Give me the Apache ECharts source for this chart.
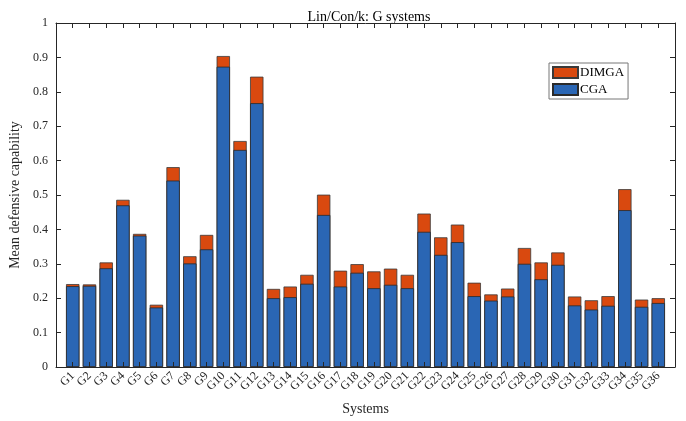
<!DOCTYPE html>
<html>
<head>
<meta charset="utf-8">
<script src="https://cdn.jsdelivr.net/npm/echarts@6/dist/echarts.min.js"></script>
<style>
  html, body { margin: 0; padding: 0; background: #fff; }
  #chart { width: 686px; height: 421px; }
</style>
</head>
<body>
<div id="chart"></div>
<script>
// System names along the x axis
const systems = ['G1','G2','G3','G4','G5','G6','G7','G8','G9','G10','G11','G12',
  'G13','G14','G15','G16','G17','G18','G19','G20','G21','G22','G23','G24',
  'G25','G26','G27','G28','G29','G30','G31','G32','G33','G34','G35','G36'];

// Mean defensive capability per system
const dimga = [0.241,0.240,0.304,0.486,0.387,0.181,0.581,0.322,0.384,0.904,0.657,0.844,
  0.227,0.234,0.268,0.501,0.280,0.299,0.278,0.286,0.268,0.446,0.377,0.414,
  0.245,0.211,0.228,0.346,0.304,0.333,0.205,0.194,0.206,0.517,0.196,0.200];
const cga = [0.235,0.236,0.287,0.470,0.382,0.173,0.542,0.301,0.342,0.873,0.631,0.767,
  0.200,0.203,0.242,0.442,0.234,0.274,0.229,0.239,0.229,0.393,0.326,0.363,
  0.206,0.193,0.205,0.300,0.255,0.297,0.179,0.167,0.178,0.456,0.175,0.186];

// y axis tick labels
const yTicks = ['0','0.1','0.2','0.3','0.4','0.5','0.6','0.7','0.8','0.9','1'];

const font = 'Liberation Serif, Times New Roman, serif';
const ink = '#262626';

const toPoints = arr => arr.map((v, i) => [i + 1, v]);
const xLabel = v => (v >= 1 && v <= systems.length && Number.isInteger(v)) ? systems[v - 1] : '';

// Box axes: line plus inward-pointing ticks, no labels
const boxLine = { show: true, onZero: false, lineStyle: { color: ink, width: 1 } };
const boxTick = { show: true, inside: true, length: 5, lineStyle: { color: ink } };

const chart = echarts.init(document.getElementById('chart'), null, { renderer: 'canvas' });
chart.setOption({
  animation: false,
  backgroundColor: '#fff',
  title: {
    text: 'Lin/Con/k: G systems',
    left: 364, top: 5, textAlign: 'center',
    textStyle: { fontFamily: font, fontSize: 14, fontWeight: 'normal', color: '#000' }
  },
  legend: {
    data: ['DIMGA', 'CGA'],
    orient: 'vertical',
    left: 549, top: 63,
    itemWidth: 25, itemHeight: 11, itemGap: 4,
    padding: [3, 4, 3, 3],
    borderColor: '#777', borderWidth: 1,
    backgroundColor: '#fff',
    icon: 'rect',
    textStyle: { fontFamily: font, fontSize: 13, color: '#000', padding: [0, 0, 0, -3] }
  },
  grid: { left: 52, right: 11, top: 23, bottom: 47, containLabel: false },
  xAxis: [{
    type: 'value', min: 0, max: systems.length + 1, interval: 1,
    z: 10,
    name: 'Systems', nameLocation: 'middle', nameGap: 35,
    nameTextStyle: { fontFamily: font, fontSize: 14, color: ink },
    axisLine: boxLine,
    axisTick: boxTick,
    axisLabel: {
      rotate: 45, margin: 7, formatter: xLabel,
      fontFamily: font, fontSize: 12, color: ink, showMinLabel: false, showMaxLabel: false
    },
    splitLine: { show: false }
  }, {
    type: 'value', position: 'top', min: 0, max: systems.length + 1, interval: 1,
    z: 10,
    axisLine: boxLine,
    axisTick: boxTick,
    axisLabel: { show: false },
    splitLine: { show: false }
  }],
  yAxis: [{
    type: 'value', min: 0, max: 1, interval: 0.1,
    z: 10,
    name: 'Mean defensive capability', nameLocation: 'middle', nameGap: 34,
    nameTextStyle: { fontFamily: font, fontSize: 14, color: ink },
    axisLine: boxLine,
    axisTick: boxTick,
    axisLabel: {
      formatter: (v) => yTicks[Math.round(v * 10)],
      fontFamily: font, fontSize: 12, color: ink, margin: 8
    },
    splitLine: { show: false }
  }, {
    type: 'value', position: 'right', min: 0, max: 1, interval: 0.1,
    z: 10,
    axisLine: boxLine,
    axisTick: boxTick,
    axisLabel: { show: false },
    splitLine: { show: false }
  }],
  series: [{
    name: 'DIMGA', type: 'bar', xAxisIndex: 0, yAxisIndex: 0,
    data: toPoints(dimga),
    barWidth: '80%', barGap: '-100%',
    itemStyle: { color: '#d9490f', borderColor: '#3a3a3a', borderWidth: 0.8 }
  }, {
    name: 'CGA', type: 'bar', xAxisIndex: 0, yAxisIndex: 0,
    data: toPoints(cga),
    barWidth: '80%', barGap: '-100%',
    itemStyle: { color: '#2a66b4', borderColor: '#2a2a2a', borderWidth: 0.8 }
  }]
});
</script>
</body>
</html>
